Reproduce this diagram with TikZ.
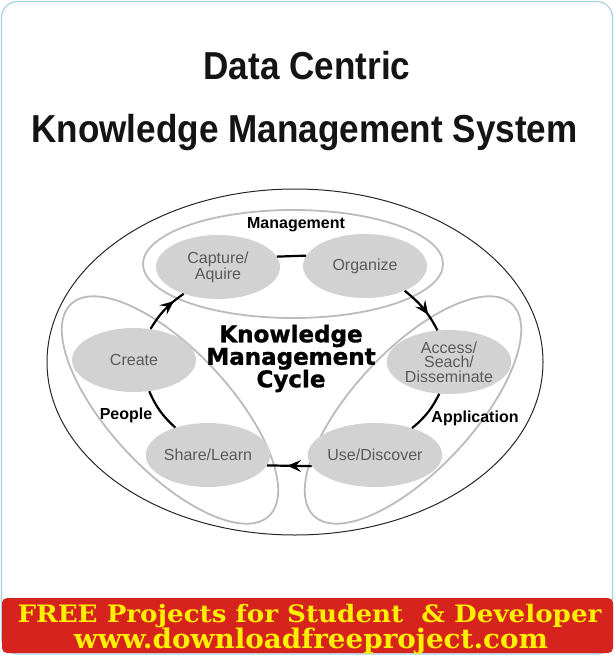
\documentclass[tikz,border=0pt]{standalone}
\usepackage{fontspec}
\setmainfont{Liberation Sans}
\newfontfamily\cyclefont{DejaVu Sans}[BoldFeatures={FakeBold=1.2}]
\newfontfamily\bannerfont{DejaVu Serif}
\usetikzlibrary{shapes.geometric,arrows.meta,decorations.markings}
\definecolor{framecol}{HTML}{A3D3E3}
\definecolor{bannerred}{HTML}{D7231E}
\definecolor{banneryellow}{HTML}{FFF000}
\definecolor{blobfill}{HTML}{D2D2D2}
\definecolor{blobtext}{HTML}{5A5A5A}
\definecolor{petalgray}{HTML}{BBBBBB}
\tikzset{
    blob/.style={ellipse, fill=blobfill, minimum width=124pt, minimum height=64pt,
    	inner sep=0pt, align=center, text=blobtext, font=\fontsize{16}{14.5}\selectfont}
}
\tikzset{
    tag/.style={inner sep=0pt, font=\bfseries\fontsize{16}{16}\selectfont},
    petal/.style={draw=petalgray, line width=1.8pt},
    link/.style={line width=2.2pt},
    flow/.style={link, postaction={decorate}, decoration={markings,
    	mark=at position #1 with {\arrow{Stealth[length=14pt,width=12pt,inset=5.5pt]}}}}
}

\begin{document}
\begin{tikzpicture}[x=1pt, y=-1pt]
	\useasboundingbox (0,0) rectangle (614,655);
	\draw[framecol, line width=1.2pt, rounded corners=16pt] (1.5,1.5) rectangle (612.5,654);

	\node (title1) [anchor=base, xscale=0.9, text=black!92, font=\bfseries\fontsize{39}{39}\selectfont] at (307,80) {Data Centric};
	\node (title2) [anchor=base, xscale=0.9, text=black!92, font=\bfseries\fontsize{39}{39}\selectfont] at (304.5,143) {Knowledge Management System};

	\draw[line width=1pt, black!85] (295,362) ellipse [x radius=248pt, y radius=173pt];
	\draw[petal] (293,264) ellipse [x radius=150pt, y radius=54pt];
	\draw[petal, rotate around={-47:(170,410)}] (170,410) ellipse [x radius=145pt, y radius=60pt];
	\draw[petal, rotate around={47:(413,410)}] (413,410) ellipse [x radius=145pt, y radius=60pt];

	\node (capture) [blob] at (218,267) {Capture/\\Aquire};
	\node (organize) [blob] at (365,266) {Organize};
	\node (access) [blob] at (449,362) {Access/\\Seach/\\Disseminate};
	\node (use) [blob] at (375,455) {Use/Discover};
	\node (share) [blob] at (208,455) {Share/Learn};
	\node (create) [blob] at (134,360) {Create};

	\node (management) [tag] at (296,225) {Management};
	\node (people) [tag] at (126,415) {People};
	\node (application) [tag] at (475,418) {Application};
	\node (cycle) [inner sep=0pt, align=center, font=\cyclefont\bfseries\fontsize{23}{22.5}\selectfont] at (291,358.5) {Knowledge\\Management\\Cycle};

	\draw[flow=0.75] (create.62) to[bend left=12] (capture.218);
	\draw[link] (capture.10) -- (organize.170);
	\draw[flow=0.65] (organize.-32) to[bend left=12] (access.110);
	\draw[link] (access.253) to[bend left=12] (use.36);
	\draw[flow=0.55] (use.190) -- (share.-10);
	\draw[link] (share.140) to[bend left=12] (create.-64);

	\fill[bannerred, rounded corners=5pt] (2,598) rectangle (613,653);
	\node (free) [anchor=base, xscale=1.09, text=banneryellow, font=\bannerfont\bfseries\fontsize{24}{24}\selectfont] at (309.5,622) {FREE Projects for Student\ \ \& Developer};
	\node (site) [anchor=base, xscale=1.03, text=banneryellow, font=\bannerfont\bfseries\fontsize{27}{27}\selectfont] at (311,648) {www.downloadfreeproject.com};
\end{tikzpicture}
\end{document}
